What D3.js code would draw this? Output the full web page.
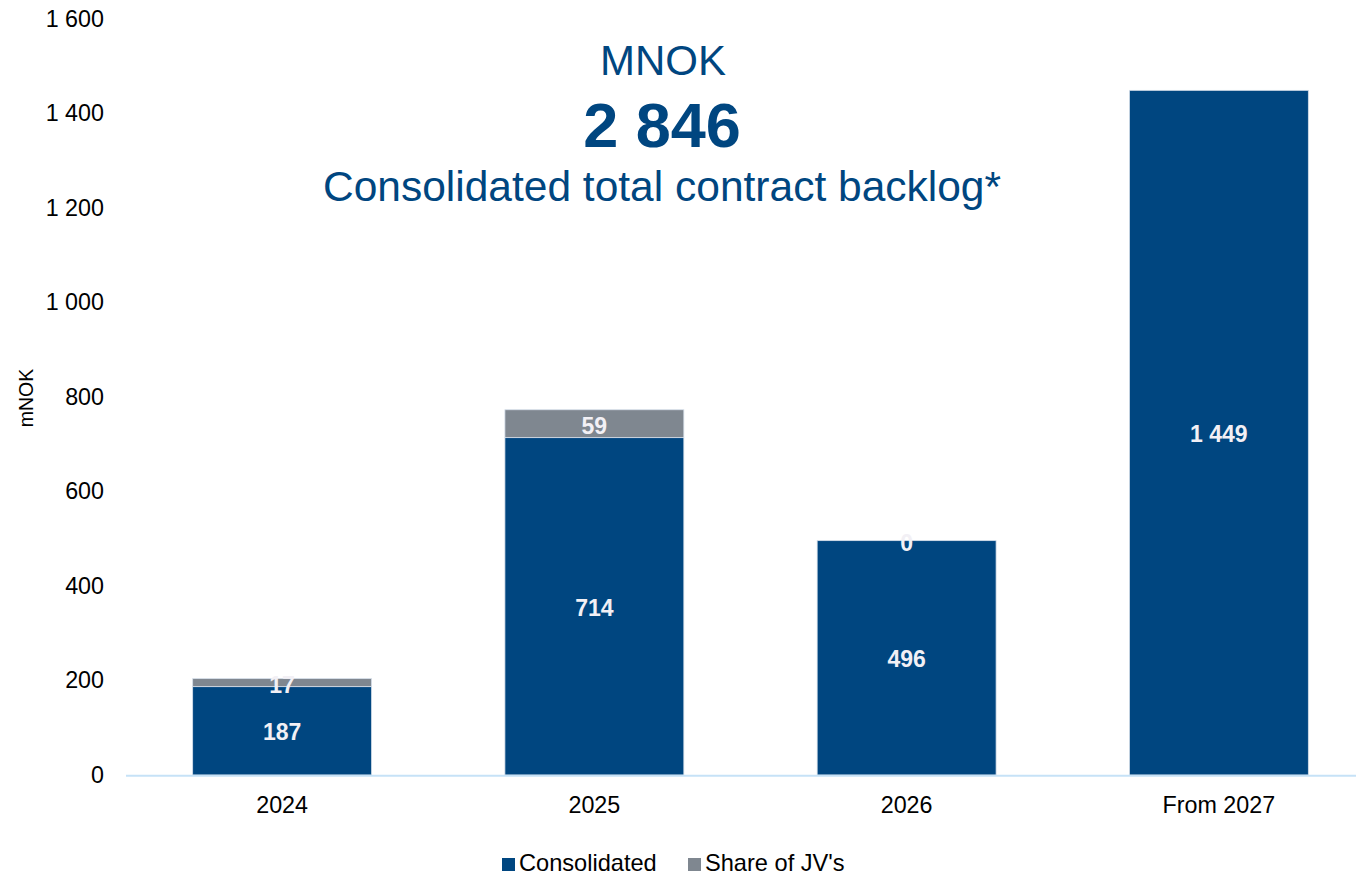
<!DOCTYPE html>
<html>
<head>
<meta charset="utf-8">
<script src="https://cdn.jsdelivr.net/npm/d3@7"></script>
<style>
    body { margin: 0; background: #fff; }
    text { font-family: "Liberation Sans", Arial, sans-serif; }
</style>
</head>
<body>
<div id="chart"></div>
<script>
const categories = ["2024", "2025", "2026", "From 2027"];
const consolidated = [187, 714, 496, 1449];
const jvShare = [17, 59, 0, null];
const yTicks = [0, 200, 400, 600, 800, 1000, 1200, 1400, 1600];
const seriesNames = ["Consolidated", "Share of JV's"];

const COLORS = {
    consolidated: '#004680',
    jv: '#7f8790'
}

class BacklogChart {

    constructor(parentElement) {
        this.parentElement = parentElement;
        this.initVis();
    }

    initVis() {
        let vis = this;
        vis.width = 1356;
        vis.height = 875;

        vis.svg = d3.select('#' + vis.parentElement).append("svg")
            .attr("width", vis.width)
            .attr("height", vis.height)

        vis.x = d3.scaleBand()
            .domain(categories)
            .range([126, 1375])
            .paddingInner(0.427)
            .paddingOuter(0.2135)

        vis.y = d3.scaleLinear()
            .domain([0, 1600])
            .range([775, 19])

        // y tick labels, no line
        let yAxis = vis.svg.append("g")
            .attr("transform", "translate(104,0)")
            .call(d3.axisLeft(vis.y)
                .tickValues(yTicks)
                .tickSize(0)
                .tickPadding(0)
                .tickFormat((d) => d3.format(",")(d).replace(/,/g, " ")))
        yAxis.select(".domain").remove()
        yAxis.selectAll("text")
            .attr("font-size", 23.3)
            .attr("fill", "#000")
            .attr("font-family", "Liberation Sans, Arial, sans-serif")

        vis.svg.append("text")
            .attr("transform", "translate(33,398) rotate(-90)")
            .attr("text-anchor", "middle")
            .attr("font-size", 19.5)
            .text("mNOK")

        let rows = categories.map((c, i) => ({cat: c, cons: consolidated[i], jv: jvShare[i]}))

        vis.svg.selectAll(".bar-cons")
            .data(rows)
            .enter()
            .append("rect")
            .attr("class", "bar-cons")
            .attr("x", (d) => vis.x(d.cat))
            .attr("y", (d) => vis.y(d.cons))
            .attr("width", vis.x.bandwidth())
            .attr("height", (d) => vis.y(0) - vis.y(d.cons))
            .attr("fill", COLORS.consolidated)
            .attr("stroke", "#d6dfea")
            .attr("stroke-width", 0.8)

        vis.svg.selectAll(".bar-jv")
            .data(rows.filter((d) => d.jv))
            .enter()
            .append("rect")
            .attr("class", "bar-jv")
            .attr("x", (d) => vis.x(d.cat))
            .attr("y", (d) => vis.y(d.cons + d.jv))
            .attr("width", vis.x.bandwidth())
            .attr("height", (d) => vis.y(d.cons) - vis.y(d.cons + d.jv))
            .attr("fill", COLORS.jv)
            .attr("stroke", "#d6dfea")
            .attr("stroke-width", 0.8)

        // axis line
        vis.svg.append("line")
            .attr("x1", 126)
            .attr("x2", vis.width)
            .attr("y1", vis.y(0) + 0.7)
            .attr("y2", vis.y(0) + 0.7)
            .attr("stroke", "#c6e2f7")
            .attr("stroke-width", 2)

        vis.svg.selectAll(".x-label")
            .data(categories)
            .enter()
            .append("text")
            .attr("class", "x-label")
            .attr("x", (d) => vis.x(d) + vis.x.bandwidth() / 2)
            .attr("y", 813)
            .attr("text-anchor", "middle")
            .attr("font-size", 23.3)
            .text((d) => d)

        // value labels
        vis.svg.selectAll(".cons-label")
            .data(rows)
            .enter()
            .append("text")
            .attr("class", "cons-label")
            .attr("x", (d) => vis.x(d.cat) + vis.x.bandwidth() / 2)
            .attr("y", (d) => (vis.y(0) + vis.y(d.cons)) / 2 + 9.5)
            .attr("text-anchor", "middle")
            .attr("font-size", 23)
            .attr("font-weight", "bold")
            .attr("fill", "#f2f0f5")
            .text((d) => d3.format(",")(d.cons).replace(/,/g, " "))

        vis.svg.selectAll(".jv-label")
            .data(rows.filter((d) => d.jv !== null))
            .enter()
            .append("text")
            .attr("class", "jv-label")
            .attr("x", (d) => vis.x(d.cat) + vis.x.bandwidth() / 2)
            .attr("y", (d) => (vis.y(d.cons) + vis.y(d.cons + d.jv)) / 2 + 10)
            .attr("text-anchor", "middle")
            .attr("font-size", 23)
            .attr("font-weight", "bold")
            .attr("fill", "#f2f0f5")
            .text((d) => d.jv)

        // title block
        vis.svg.append("text")
            .attr("x", 663).attr("y", 75)
            .attr("text-anchor", "middle")
            .attr("font-size", 42)
            .attr("fill", COLORS.consolidated)
            .text("MNOK")
        vis.svg.append("text")
            .attr("x", 662).attr("y", 147)
            .attr("text-anchor", "middle")
            .attr("font-size", 63)
            .attr("font-weight", "bold")
            .attr("fill", COLORS.consolidated)
            .text("2 846")
        vis.svg.append("text")
            .attr("x", 662).attr("y", 201)
            .attr("text-anchor", "middle")
            .attr("font-size", 42.5)
            .attr("fill", COLORS.consolidated)
            .text("Consolidated total contract backlog*")

        // legend
        let legend = [
            {name: seriesNames[0], color: COLORS.consolidated, x: 502},
            {name: seriesNames[1], color: COLORS.jv, x: 688}
        ]
        vis.svg.selectAll(".legend-box")
            .data(legend)
            .enter()
            .append("rect")
            .attr("class", "legend-box")
            .attr("x", (d) => d.x)
            .attr("y", 858)
            .attr("width", 13)
            .attr("height", 13)
            .attr("fill", (d) => d.color)
        vis.svg.selectAll(".legend-text")
            .data(legend)
            .enter()
            .append("text")
            .attr("class", "legend-text")
            .attr("x", (d) => d.x + 17)
            .attr("y", 871)
            .attr("font-size", 23.6)
            .text((d) => d.name)
    }
}

new BacklogChart("chart");
</script>
</body>
</html>
